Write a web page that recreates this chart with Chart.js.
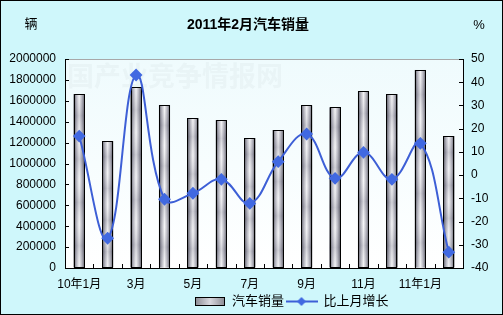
<!DOCTYPE html>
<html>
<head>
<meta charset="utf-8">
<script src="https://cdn.jsdelivr.net/npm/chart.js@4/dist/chart.umd.min.js"></script>
<style>
  html, body { margin: 0; padding: 0; background: #cff7fb; }
  #wrap { width: 503px; height: 315px; }
</style>
</head>
<body>
<div id="wrap"><canvas id="myChart" width="503" height="315"></canvas></div>
<script>
// data
const months = ['10年1月', '2月', '3月', '4月', '5月', '6月', '7月', '8月', '9月', '10月', '11月', '12月', '11年1月', '2月'];
const sales = [1665000, 1215000, 1732000, 1560000, 1435000, 1416000, 1244000, 1320000, 1557000, 1538000, 1690000, 1665000, 1895000, 1263000];
const growth = [16.8, -27.2, 43.1, -10.4, -7.8, -1.8, -12.2, 5.8, 17.7, -1.4, 9.8, -1.8, 13.7, -33.2];

const FONT = "'Liberation Sans', 'Noto Sans CJK SC', sans-serif";

function metalGradient(c, x0, x1) {
    const g = c.createLinearGradient(x0, 0, x1, 0);
    g.addColorStop(0, '#4a4a55');
    g.addColorStop(0.25, '#aeaeb8');
    g.addColorStop(0.5, '#f4f4f6');
    g.addColorStop(0.75, '#aeaeb8');
    g.addColorStop(1, '#4e4e58');
    return g;
}

// legend icons
const barIcon = document.createElement('canvas');
barIcon.width = 30; barIcon.height = 9;
(function () {
    const c = barIcon.getContext('2d');
    const g = c.createLinearGradient(0, 0, 30, 0);
    g.addColorStop(0, '#8a8a92'); g.addColorStop(0.5, '#d8d8de'); g.addColorStop(1, '#8a8a92');
    c.fillStyle = g;
    c.fillRect(0.5, 0.5, 29, 8);
    c.strokeStyle = '#000';
    c.strokeRect(0.5, 0.5, 29, 8);
})();
const lineIcon = document.createElement('canvas');
lineIcon.width = 32; lineIcon.height = 11;
(function () {
    const c = lineIcon.getContext('2d');
    c.strokeStyle = '#3d5fd6'; c.lineWidth = 2;
    c.beginPath(); c.moveTo(0, 5.5); c.lineTo(32, 5.5); c.stroke();
    c.fillStyle = '#4169e1';
    c.beginPath(); c.moveTo(16, 1); c.lineTo(20.5, 5.5); c.lineTo(16, 10); c.lineTo(11.5, 5.5); c.closePath(); c.fill();
})();

const decor = {
    id: 'decor',
    beforeDraw(chart) {
        const c = chart.ctx, a = chart.chartArea;
        c.save();
        c.fillStyle = '#cff7fb';
        c.fillRect(0, 0, chart.width, chart.height);
        const g = c.createLinearGradient(0, a.top, 0, a.bottom);
        g.addColorStop(0, '#effbfd');
        g.addColorStop(1, '#ffffff');
        c.fillStyle = g;
        c.fillRect(a.left, a.top, a.right - a.left, a.bottom - a.top);
        // faint watermark, clipped to the plot
        c.beginPath();
        c.rect(a.left, a.top, a.right - a.left, a.bottom - a.top);
        c.clip();
        c.fillStyle = 'rgba(140,150,160,0.07)';
        c.font = "bold 27px 'Noto Sans CJK SC', serif";
        c.textBaseline = 'middle';
        c.textAlign = 'left';
        c.fillText('中国产业竞争情报网', 40, 76);
        c.restore();
    },
    afterDatasetDraw(chart, args) {
        if (args.index !== 0) return;
        const c = chart.ctx;
        c.save();
        args.meta.data.forEach(bar => {
            const p = bar.getProps(['x', 'y', 'base', 'width'], true);
            const x0 = p.x - p.width / 2, x1 = p.x + p.width / 2;
            c.fillStyle = metalGradient(c, x0, x1);
            c.fillRect(x0, p.y, p.width, p.base - p.y);
            // soft banding
            const v = c.createLinearGradient(0, p.y, 0, p.base);
            for (let i = 0; i <= 8; i++) {
                v.addColorStop(i / 8, i % 2 ? 'rgba(90,90,110,0.2)' : 'rgba(255,255,255,0.1)');
            }
            c.fillStyle = v;
            c.fillRect(x0, p.y, p.width, p.base - p.y);
            c.strokeStyle = '#000';
            c.lineWidth = 1;
            c.strokeRect(Math.round(x0) + 0.5, Math.round(p.y) + 0.5, Math.round(p.width) - 1, Math.round(p.base - p.y));
        });
        c.restore();
    },
    afterDraw(chart) {
        const c = chart.ctx, a = chart.chartArea;
        c.save();
        // top frame line
        c.strokeStyle = '#a8a8a8';
        c.lineWidth = 1;
        c.beginPath(); c.moveTo(a.left, a.top + 0.5); c.lineTo(a.right, a.top + 0.5); c.stroke();
        // inward tick marks
        c.strokeStyle = '#000';
        c.beginPath();
        const yl = chart.scales.y, yr = chart.scales.y1, xs = chart.scales.x;
        yl.ticks.forEach((t, i) => { const y = Math.round(yl.getPixelForTick(i)) + 0.5; c.moveTo(a.left, y); c.lineTo(a.left + 4, y); });
        yr.ticks.forEach((t, i) => { const y = Math.round(yr.getPixelForTick(i)) + 0.5; c.moveTo(a.right - 4, y); c.lineTo(a.right, y); });
        for (let i = 1; i < months.length; i++) {
            const x = Math.round((xs.getPixelForValue(i - 1) + xs.getPixelForValue(i)) / 2) + 0.5;
            c.moveTo(x, a.bottom); c.lineTo(x, a.bottom - 4);
        }
        c.stroke();
        // title and unit labels
        c.fillStyle = '#000';
        c.textBaseline = 'middle';
        c.textAlign = 'center';
        c.font = 'bold 14px ' + FONT;
        c.fillText('2011年2月汽车销量', 248, 25);
        c.font = '13px ' + FONT;
        c.fillText('辆', 31, 24);
        c.fillText('%', 479, 25);
        // outer frame
        c.strokeStyle = '#000';
        c.strokeRect(0.5, 0.5, chart.width - 1, chart.height - 1);
        c.restore();
    },
    afterLayout(chart) {
        chart.legend.left += 40;
        chart.legend.right += 40;
        chart.legend.top += 3;
        chart.legend.bottom += 3;
        // let the tick labels use the room below the axis box
        chart.scales.x.bottom += 10;
    }
};

const ctx = document.getElementById('myChart').getContext('2d');
const myChart = new Chart(ctx, {
    type: 'bar',
    data: {
        labels: months,
        datasets: [{
            type: 'bar',
            label: '汽车销量',
            data: sales,
            yAxisID: 'y',
            backgroundColor: '#b0b0b8',
            borderColor: '#000',
            borderWidth: 1,
            barPercentage: 0.39,
            categoryPercentage: 1,
            order: 2
        }, {
            type: 'line',
            label: '比上月增长',
            data: growth,
            yAxisID: 'y1',
            borderColor: '#3d5fd6',
            borderWidth: 2,
            backgroundColor: '#4169e1',
            pointBackgroundColor: '#4169e1',
            pointBorderColor: '#4169e1',
            pointStyle: 'rectRot',
            pointRadius: 5,
            tension: 0.4,
            order: 1
        }]
    },
    options: {
        responsive: false,
        animation: false,
        layout: { padding: { top: 59, right: 0, left: 0, bottom: 0 } },
        plugins: {
            title: { display: false },
            tooltip: { enabled: false },
            legend: {
                position: 'bottom',
                labels: {
                    usePointStyle: true,
                    pointStyleWidth: 31,
                    boxHeight: 11,
                    padding: 2,
                    color: '#000',
                    font: { size: 13, family: FONT },
                    generateLabels(chart) {
                        return chart.data.datasets.map((d, i) => ({
                            text: d.label,
                            pointStyle: i === 0 ? barIcon : lineIcon,
                            fillStyle: 'transparent',
                            strokeStyle: 'transparent',
                            lineWidth: 0,
                            fontColor: '#000',
                            datasetIndex: i
                        }));
                    }
                }
            }
        },
        scales: {
            x: {
                grid: { display: false, drawTicks: false },
                border: { color: '#000', width: 1 },
                ticks: {
                    autoSkip: false,
                    maxRotation: 0,
                    padding: 9,
                    color: '#000',
                    font: { size: 12, family: FONT },
                    callback: (v, i) => (i % 2 === 0 ? months[i] : '')
                },
                afterFit(s) { s.height = 22; }
            },
            y: {
                position: 'left',
                min: 0,
                max: 2000000,
                grid: { drawOnChartArea: false, drawTicks: false },
                border: { color: '#000', width: 1 },
                ticks: {
                    stepSize: 200000,
                    padding: 9,
                    color: '#000',
                    font: { size: 12, family: FONT },
                    callback: v => String(v)
                },
                afterFit(s) { s.width = 65; }
            },
            y1: {
                position: 'right',
                min: -40,
                max: 50,
                grid: { drawOnChartArea: false, drawTicks: false },
                border: { color: '#000', width: 1 },
                ticks: {
                    stepSize: 10,
                    padding: 8,
                    color: '#000',
                    font: { size: 12, family: FONT }
                },
                afterFit(s) { s.width = 40; }
            }
        }
    },
    plugins: [decor]
});
</script>
</body>
</html>
